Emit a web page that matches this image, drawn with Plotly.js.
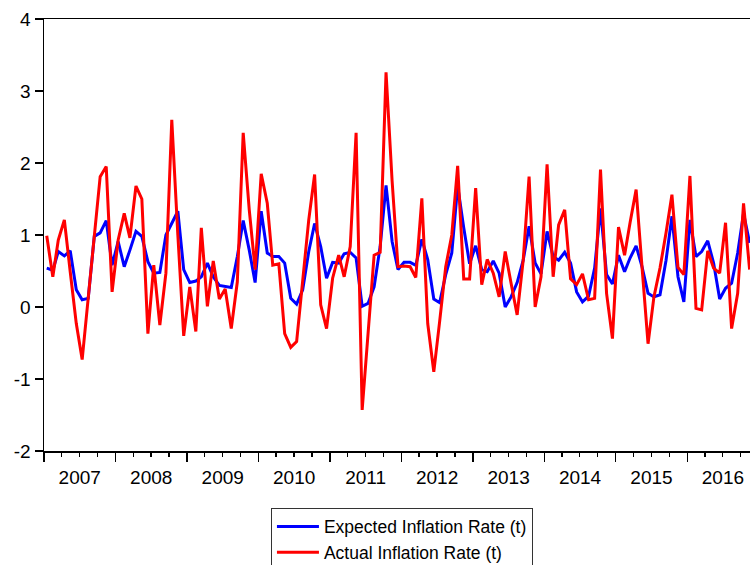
<!DOCTYPE html>
<html>
<head>
<meta charset="utf-8">
<script src="https://cdn.plot.ly/plotly-3.0.1.min.js"></script>
<style>
  html, body { margin: 0; padding: 0; background: #fff; overflow: hidden; }
  #chart { width: 750px; height: 565px; }
</style>
</head>
<body>
<div id="chart"></div>
<script>
// Monthly series, Jan 2007 – Nov 2016
const startYear = 2007;
const startMonth = 1;

const seriesNames = ['Expected Inflation Rate (t)', 'Actual Inflation Rate (t)'];

const expected = [
  0.54, 0.51, 0.77, 0.71, 0.78, 0.24, 0.10, 0.12, 0.98, 1.03, 1.20, 0.58,
  0.91, 0.56, 0.79, 1.05, 0.98, 0.63, 0.47, 0.48, 1.00, 1.17, 1.33, 0.52,
  0.34, 0.36, 0.42, 0.61, 0.42, 0.30, 0.29, 0.27, 0.70, 1.20, 0.79, 0.34,
  1.33, 0.75, 0.70, 0.70, 0.61, 0.12, 0.04, 0.24, 0.77, 1.16, 0.84, 0.40,
  0.62, 0.61, 0.74, 0.76, 0.68, 0.01, 0.05, 0.28, 0.84, 1.69, 0.91, 0.52,
  0.62, 0.62, 0.58, 0.94, 0.66, 0.11, 0.06, 0.45, 0.75, 1.68, 1.10, 0.60,
  0.85, 0.52, 0.49, 0.64, 0.47, 0.00, 0.14, 0.34, 0.65, 1.12, 0.61, 0.46,
  1.05, 0.70, 0.65, 0.76, 0.61, 0.21, 0.07, 0.15, 0.54, 1.37, 0.45, 0.32,
  0.72, 0.49, 0.68, 0.85, 0.56, 0.19, 0.14, 0.17, 0.65, 1.26, 0.42, 0.07,
  1.21, 0.70, 0.77, 0.92, 0.61, 0.11, 0.26, 0.33, 0.75, 1.30, 0.89
];

const actual = [
  0.99, 0.42, 0.93, 1.21, 0.49, -0.23, -0.73, 0.10, 0.98, 1.81, 1.95, 0.21,
  0.93, 1.30, 0.96, 1.68, 1.50, -0.37, 0.58, -0.25, 0.47, 2.60, 1.00, -0.40,
  0.28, -0.34, 1.10, 0.01, 0.64, 0.11, 0.25, -0.30, 0.35, 2.42, 1.35, 0.52,
  1.85, 1.44, 0.58, 0.60, -0.37, -0.56, -0.48, 0.35, 1.21, 1.84, 0.03, -0.30,
  0.40, 0.72, 0.42, 0.84, 2.42, -1.43, -0.35, 0.72, 0.76, 3.26, 1.75, 0.56,
  0.57, 0.56, 0.41, 1.51, -0.23, -0.90, -0.20, 0.56, 1.00, 1.96, 0.39, 0.39,
  1.65, 0.31, 0.66, 0.47, 0.14, 0.77, 0.33, -0.11, 0.65, 1.81, 0.00, 0.42,
  1.98, 0.42, 1.14, 1.35, 0.39, 0.31, 0.46, 0.10, 0.12, 1.91, 0.19, -0.44,
  1.11, 0.72, 1.17, 1.63, 0.56, -0.51, 0.14, 0.54, 1.03, 1.56, 0.55, 0.45,
  1.82, -0.02, -0.04, 0.78, 0.54, 0.47, 1.17, -0.30, 0.19, 1.44, 0.52
];

const yTickValues = [-2, -1, 0, 1, 2, 3, 4];
const yTickLabels = ['-2', '-1', '0', '1', '2', '3', '4'];

// Build mid-month dates for each observation
function pad(n) { return (n < 10 ? '0' : '') + n; }
const dates = expected.map(function (_, i) {
  const m0 = (startMonth - 1) + i;
  const y = startYear + Math.floor(m0 / 12);
  const m = (m0 % 12) + 1;
  return y + '-' + pad(m) + '-15';
});

const FONT = 'Arial, "Liberation Sans", sans-serif';

const traces = [
  {
    x: dates, y: expected, type: 'scatter', mode: 'lines',
    name: seriesNames[0],
    line: { color: '#0000ff', width: 3 }
  },
  {
    x: dates, y: actual, type: 'scatter', mode: 'lines',
    name: seriesNames[1],
    line: { color: '#ff0000', width: 3 }
  }
];

const layout = {
  width: 750,
  height: 565,
  margin: { l: 44, r: 0, t: 19, b: 114, autoexpand: false },
  paper_bgcolor: '#ffffff',
  plot_bgcolor: '#ffffff',
  font: { family: FONT, size: 19, color: '#000' },
  showlegend: true,
  legend: {
    x: 0.507, xanchor: 'center',
    y: -0.131, yanchor: 'top',
    orientation: 'v',
    font: { family: FONT, size: 17.5, color: '#000' },
    bgcolor: '#ffffff',
    bordercolor: '#333333',
    borderwidth: 1,
    itemwidth: 42,
    tracegroupgap: 0
  },
  xaxis: {
    type: 'date',
    range: ['2007-01-01', '2016-11-17'],
    tick0: '2007-01-01',
    dtick: 'M12',
    tickformat: '%Y',
    ticklabelmode: 'period',
    ticks: 'outside',
    ticklen: 9,
    tickwidth: 1.3,
    tickcolor: '#000',
    showline: true,
    linecolor: '#000',
    linewidth: 1.5,
    mirror: true,
    showgrid: false,
    zeroline: false,
    tickfont: { family: FONT, size: 19, color: '#000' },
    minor: { dtick: 'M3', ticks: 'outside', ticklen: 4, tickwidth: 1.3, tickcolor: '#000', showgrid: false }
  },
  yaxis: {
    range: [-2, 4],
    tickvals: yTickValues,
    ticktext: yTickLabels,
    ticks: 'outside',
    ticklen: 8,
    tickwidth: 1.3,
    tickcolor: '#000',
    showline: true,
    linecolor: '#000',
    linewidth: 1.5,
    showgrid: false,
    zeroline: false,
    tickfont: { family: FONT, size: 19, color: '#000' }
  }
};

Plotly.newPlot('chart', traces, layout, { staticPlot: true, displayModeBar: false });
</script>
</body>
</html>
